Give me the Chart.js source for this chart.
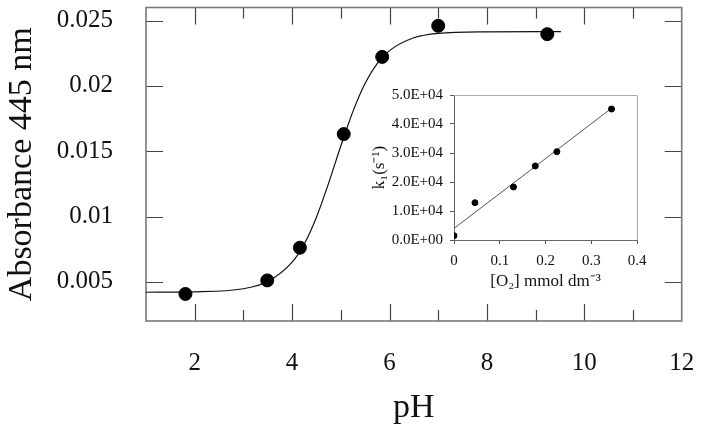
<!DOCTYPE html>
<html><head><meta charset="utf-8">
<script src="https://cdn.jsdelivr.net/npm/chart.js@4"></script>
<style>
html,body{margin:0;padding:0;background:#fff;}
#wrap{position:relative;width:702px;height:432px;overflow:hidden;}
#main{position:absolute;left:0;top:0;}
#inset{position:absolute;left:360px;top:85px;}
</style>
</head><body>
<div id="wrap"><canvas id="main" width="702" height="432"></canvas><canvas id="inset" width="300" height="215"></canvas></div>
<script>
// ---- main chart data ----
const PH_MEASURED  = [1.81, 3.49, 4.16, 5.06, 5.85, 7.00, 9.24];
const ABS_MEASURED = [0.00407, 0.00511, 0.00761, 0.01631, 0.02222, 0.0246, 0.02396];
const PH_FIT  = [1, 2, 3, 3.5, 4, 4.25, 4.5, 4.75, 5, 5.25, 5.5, 5.75, 6, 6.5, 7, 8, 9.52];
const ABS_FIT = [0.00420, 0.00423, 0.00447, 0.00502, 0.00650, 0.00790, 0.00995, 0.01255, 0.01540, 0.01805, 0.02020, 0.02172, 0.02270, 0.02368, 0.02402, 0.02414, 0.02416];
const X_TICKS = [2, 4, 6, 8, 10, 12];
const X_TICK_MARKS = [2, 3, 4, 5, 6, 7, 8, 9, 10, 11];
const Y_TICKS = [0.005, 0.01, 0.015, 0.02, 0.025];
const Y_TICK_LABELS = ['0.005', '0.01', '0.015', '0.02', '0.025'];

// ---- inset data ----
const O2_CONC   = [0, 0.0458, 0.130, 0.1776, 0.2249, 0.3443];
const K1_VALUES = [1500, 12860, 18280, 25520, 30450, 45170];
const O2_FIT = [0, 0.34];
const K1_FIT = [4000, 44900];
const INSET_X_TICKS  = [0, 0.1, 0.2, 0.3, 0.4];
const INSET_X_LABELS = ['0', '0.1', '0.2', '0.3', '0.4'];
const INSET_Y_TICKS  = [0, 10000, 20000, 30000, 40000, 50000];
const INSET_Y_LABELS = ['0.0E+00', '1.0E+04', '2.0E+04', '3.0E+04', '4.0E+04', '5.0E+04'];

const SERIF = "'Liberation Serif', 'Times New Roman', serif";
const zip = (xs, ys) => xs.map((x, i) => ({x, y: ys[i]}));
const noPad = s => { s.paddingLeft = 0; s.paddingRight = 0; s.paddingTop = 0; s.paddingBottom = 0; };

const mainFrame = {
  id: 'mainFrame',
  beforeDatasetsDraw(chart) {
    const {ctx, chartArea: a, scales: {x, y}} = chart;
    ctx.save();
    ctx.strokeStyle = '#444';
    ctx.lineWidth = 1.2;
    ctx.beginPath();
    X_TICK_MARKS.forEach(v => {
      const px = Math.round(x.getPixelForValue(v)) + 0.5;
      const len = (v % 2 === 0) ? 17 : 11;
      ctx.moveTo(px, a.bottom); ctx.lineTo(px, a.bottom - len);
      ctx.moveTo(px, a.top); ctx.lineTo(px, a.top + len);
    });
    Y_TICKS.forEach(v => {
      const py = Math.round(y.getPixelForValue(v)) + 0.5;
      ctx.moveTo(a.left, py); ctx.lineTo(a.left + 17, py);
      ctx.moveTo(a.right, py); ctx.lineTo(a.right - 17, py);
    });
    ctx.stroke();
    ctx.strokeStyle = '#777';
    ctx.lineWidth = 1.6;
    ctx.strokeRect(a.left, a.top, a.right - a.left, a.bottom - a.top);
    ctx.restore();
  }
};

new Chart(document.getElementById('main'), {
  type: 'scatter',
  data: {
    datasets: [
      {
        type: 'line',
        data: zip(PH_FIT, ABS_FIT),
        borderColor: '#111',
        borderWidth: 1.2,
        pointRadius: 0,
        fill: false,
        cubicInterpolationMode: 'monotone',
        order: 2
      },
      {
        data: zip(PH_MEASURED, ABS_MEASURED),
        backgroundColor: '#000',
        borderColor: '#000',
        pointRadius: 6.5,
        order: 1
      }
    ]
  },
  options: {
    responsive: false,
    animation: false,
    layout: {padding: {left: 0, right: 20.3, top: 7.3, bottom: 0}},
    plugins: {legend: {display: false}, tooltip: {enabled: false}},
    scales: {
      x: {
        type: 'linear', min: 1, max: 12,
        afterBuildTicks: s => { s.ticks = X_TICKS.map(v => ({value: v})); },
        afterFit: s => { s.height = 111; noPad(s); },
        grid: {display: false},
        border: {display: false},
        ticks: {
          autoSkip: false, maxRotation: 0, padding: 19,
          color: '#111', font: {family: SERIF, size: 25},
          callback: (v, i) => String(X_TICKS[i])
        },
        title: {display: true, text: 'pH', color: '#111', font: {family: SERIF, size: 34}, padding: {top: 0, bottom: 4}}
      },
      y: {
        type: 'linear', min: 0.002, max: 0.026,
        afterBuildTicks: s => { s.ticks = Y_TICKS.map(v => ({value: v})); },
        afterFit: s => { s.width = 146; noPad(s); },
        grid: {display: false},
        border: {display: false},
        ticks: {
          autoSkip: false, padding: 25,
          color: '#111', font: {family: SERIF, size: 25},
          callback: (v, i) => Y_TICK_LABELS[i]
        },
        title: {display: true, text: 'Absorbance 445 nm', color: '#111', font: {family: SERIF, size: 34}, padding: {top: 2, bottom: 0}}
      }
    }
  },
  plugins: [mainFrame]
});

const insetFrame = {
  id: 'insetFrame',
  beforeDatasetsDraw(chart) {
    const {ctx, chartArea: a} = chart;
    ctx.save();
    ctx.strokeStyle = '#aaa';
    ctx.lineWidth = 1;
    ctx.beginPath();
    ctx.moveTo(a.left, a.top + 0.5); ctx.lineTo(a.right + 0.5, a.top + 0.5);
    ctx.lineTo(a.right + 0.5, a.bottom);
    ctx.stroke();
    ctx.restore();
  }
};

new Chart(document.getElementById('inset'), {
  type: 'scatter',
  data: {
    datasets: [
      {
        type: 'line',
        data: zip(O2_FIT, K1_FIT),
        borderColor: '#555',
        borderWidth: 1,
        pointRadius: 0,
        fill: false,
        order: 2
      },
      {
        data: zip(O2_CONC, K1_VALUES),
        backgroundColor: '#000',
        borderColor: '#000',
        pointRadius: 3,
        order: 1
      }
    ]
  },
  options: {
    responsive: false,
    animation: false,
    layout: {padding: {left: 0, right: 23, top: 10, bottom: 0}},
    plugins: {legend: {display: false}, tooltip: {enabled: false}},
    scales: {
      x: {
        type: 'linear', min: 0, max: 0.4,
        afterBuildTicks: s => { s.ticks = INSET_X_TICKS.map(v => ({value: v})); },
        afterFit: s => { s.height = 60; noPad(s); },
        grid: {display: true, drawOnChartArea: false, drawTicks: true, tickLength: 4, color: '#555'},
        border: {display: true, color: '#666', width: 1},
        ticks: {
          autoSkip: false, maxRotation: 0, padding: 8,
          color: '#111', font: {family: SERIF, size: 15},
          callback: (v, i) => INSET_X_LABELS[i]
        },
        title: {display: true, text: '[O\u2082] mmol dm\u207B\u00B3', color: '#111', font: {family: SERIF, size: 17}, padding: {top: 0, bottom: 8}}
      },
      y: {
        type: 'linear', min: 0, max: 50000,
        afterBuildTicks: s => { s.ticks = INSET_Y_TICKS.map(v => ({value: v})); },
        afterFit: s => { s.width = 94; noPad(s); },
        grid: {display: true, drawOnChartArea: false, drawTicks: true, tickLength: 4, color: '#555'},
        border: {display: true, color: '#666', width: 1},
        ticks: {
          autoSkip: false, padding: 7,
          color: '#111', font: {family: SERIF, size: 15},
          callback: (v, i) => INSET_Y_LABELS[i]
        },
        title: {display: true, text: 'k\u2081(s\u207B\u00B9)', color: '#111', font: {family: SERIF, size: 17}, padding: {top: 9, bottom: 0}}
      }
    }
  },
  plugins: [insetFrame]
});
</script>
</body></html>
